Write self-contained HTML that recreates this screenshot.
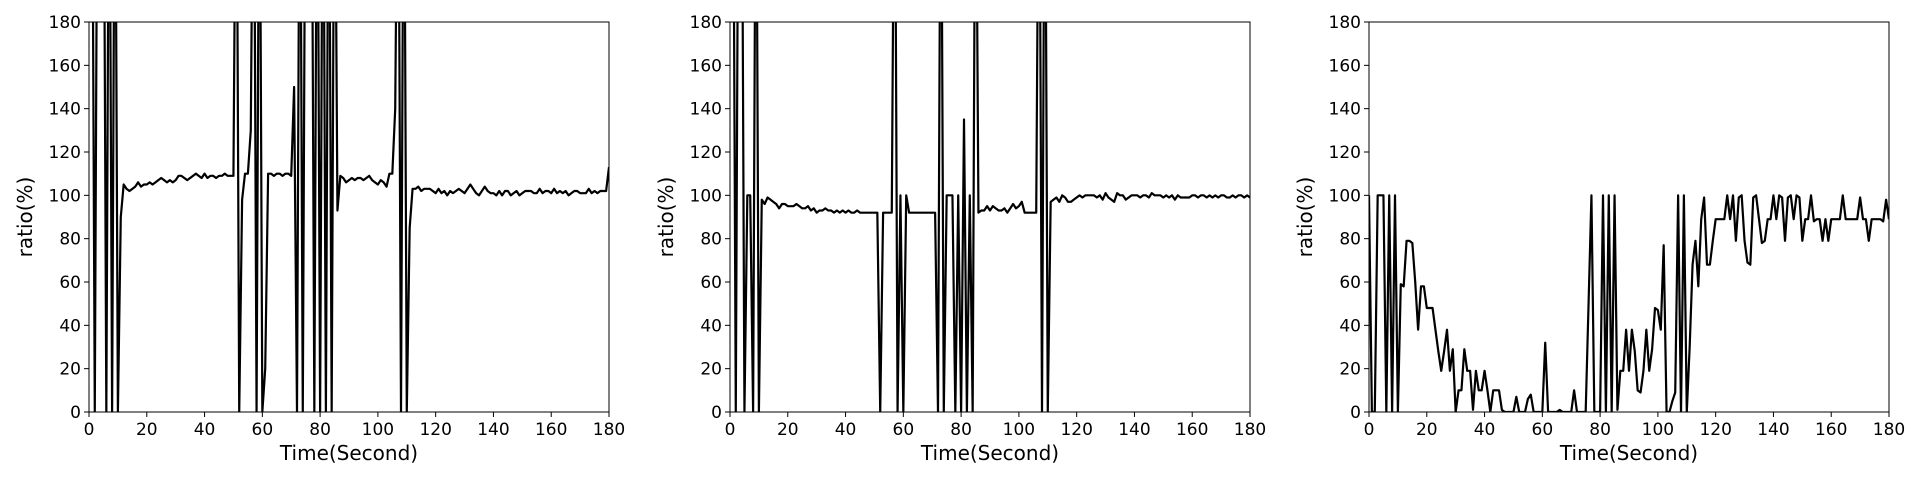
<!DOCTYPE html>
<html><head><meta charset="utf-8"><style>
html,body{margin:0;padding:0;background:#fff;width:1920px;height:480px;overflow:hidden}
svg text{font-family:"DejaVu Sans","Liberation Sans",sans-serif;fill:#000}
</style></head><body>
<svg id="chart" width="1920" height="480" viewBox="0 0 1920 480" xmlns="http://www.w3.org/2000/svg"></svg>
<script>
const xTicks = [0,20,40,60,80,100,120,140,160,180];
const yTicks = [0,20,40,60,80,100,120,140,160,180];
const seriesA = [300,300,0,300,300,300,0,300,0,300,0,
90,105,103,102,103,104,106,104,105,105,
106,105,106,107,108,107,106,107,106,107,
109,109,108,107,108,109,110,109,108,110,
108,109,109,108,109,109,110,109,109,109,
300,0,98,110,110,130,300,0,300,0,
20,110,110,109,110,110,109,110,110,109,
150,0,300,0,300,300,300,0,300,0,300,0,300,0,300,
93,109,108,106,107,108,107,108,108,107,108,109,107,106,105,107,106,104,110,110,
140,300,0,300,0,
85,103,103,104,102,103,103,103,102,101,
103,101,102,100,102,101,102,103,102,101,
103,105,103,101,100,102,104,102,101,101,
100,102,100,102,102,100,101,102,100,101,
102,102,102,101,101,103,101,102,102,101,
103,101,102,101,102,100,101,102,102,101,
101,101,103,101,102,101,102,102,102,
113];
const seriesB = [300,300,0,300,300,0,100,100,0,300,0,
98,96,99,98,97,96,94,96,96,95,
95,95,96,95,94,94,95,93,94,92,
93,93,94,93,93,92,93,92,93,92,
93,92,92,93,92,92,92,92,92,92,
92,
0,92,92,92,92,300,0,100,0,100,
92,92,92,92,92,92,92,92,92,92,0,
300,0,100,100,100,0,100,0,135,0,100,0,300,
92,93,93,95,93,95,94,93,93,94,92,94,96,94,95,97,92,92,92,92,92,
300,0,300,0,
97,98,99,97,100,99,97,97,98,99,
100,99,100,100,100,100,99,100,98,101,
99,98,97,101,100,100,98,99,100,100,
100,99,100,100,99,101,100,100,100,99,
100,99,100,98,100,99,99,99,99,100,
100,99,100,100,99,100,99,100,99,100,
100,99,99,100,99,100,100,99,100,99];
const seriesC = [100,0,0,100,100,100,0,100,0,100,0,
59,58,79,79,78,60,38,58,58,48,
48,48,38,28,19,28,38,19,29,0,
10,10,29,19,19,1,19,10,10,19,
10,0,10,10,10,1,0,0,0,0,
7,0,0,0,6,8,0,0,0,0,
32,0,0,0,0,1,0,0,0,0,
10,0,0,0,0,50,100,0,0,0,
100,0,100,0,100,1,19,19,38,19,
38,28,10,9,19,38,19,29,48,47,
38,77,0,0,5,9,100,0,100,0,
30,68,79,58,89,99,68,68,79,89,
89,89,89,100,89,100,79,99,100,79,
69,68,99,100,89,78,79,89,89,100,
89,100,99,79,99,100,89,100,99,79,
89,89,100,88,89,89,79,89,79,89,
89,89,89,100,89,89,89,89,89,99,
89,89,79,89,89,89,89,88,98,89];
const allSeries = [seriesA, seriesB, seriesC];
const panelLefts = [89, 730, 1369];
const NS = "http://www.w3.org/2000/svg";
const svg = document.getElementById('chart');
const W = 520, TOP = 22, BOT = 412;
function mk(tag, attrs){const e=document.createElementNS(NS,tag);for(const k in attrs)e.setAttribute(k,attrs[k]);return e;}
allSeries.forEach((data, p) => {
  const L = panelLefts[p];
  const xs = v => L + v / 180 * W;
  const ys = v => BOT - v / 180 * (BOT - TOP);
  const g = mk('g', {});
  
  
  svg.appendChild(g);
  const cp = mk('clipPath', {id: 'clip' + p});
  cp.appendChild(mk('rect', {x: L, y: TOP, width: W, height: BOT - TOP}));
  g.appendChild(cp);
  const pts = data.map((v, i) => xs(i).toFixed(2) + ',' + ys(v).toFixed(2)).join(' ');
  const line = mk('polyline', {points: pts, fill: 'none', stroke: '#000', 'stroke-width': 2.2, 'stroke-linejoin': 'round', 'clip-path': 'url(#clip' + p + ')'});
  
  
  g.appendChild(line);
  const frame = mk('rect', {x: L, y: TOP, width: W, height: BOT - TOP, fill: 'none', stroke: '#000', 'stroke-width': 1});
  
  
  g.appendChild(frame);
  xTicks.forEach(t => {
    g.appendChild(mk('line', {x1: xs(t), x2: xs(t), y1: BOT, y2: BOT + 5, stroke: '#000', 'stroke-width': 1}));
    const tx = mk('text', {x: xs(t), y: BOT + 23, 'text-anchor': 'middle', 'font-size': 17});
    tx.textContent = t;
    
    
    g.appendChild(tx);
  });
  yTicks.forEach(t => {
    g.appendChild(mk('line', {x1: L - 5, x2: L, y1: ys(t), y2: ys(t), stroke: '#000', 'stroke-width': 1}));
    const ty = mk('text', {x: L - 8, y: ys(t) + 6, 'text-anchor': 'end', 'font-size': 17});
    ty.textContent = t;
    
    
    g.appendChild(ty);
  });
  const xl = mk('text', {x: L + W / 2, y: 460, 'text-anchor': 'middle', 'font-size': 20});
  xl.textContent = 'Time(Second)';
  
  
  g.appendChild(xl);
  const yl = mk('text', {x: 0, y: 0, 'text-anchor': 'middle', 'font-size': 20, transform: 'translate(' + (L - 57) + ',' + ((TOP + BOT) / 2) + ') rotate(-90)'});
  yl.textContent = 'ratio(%)';
  
  
  g.appendChild(yl);
});
</script>
</body></html>
